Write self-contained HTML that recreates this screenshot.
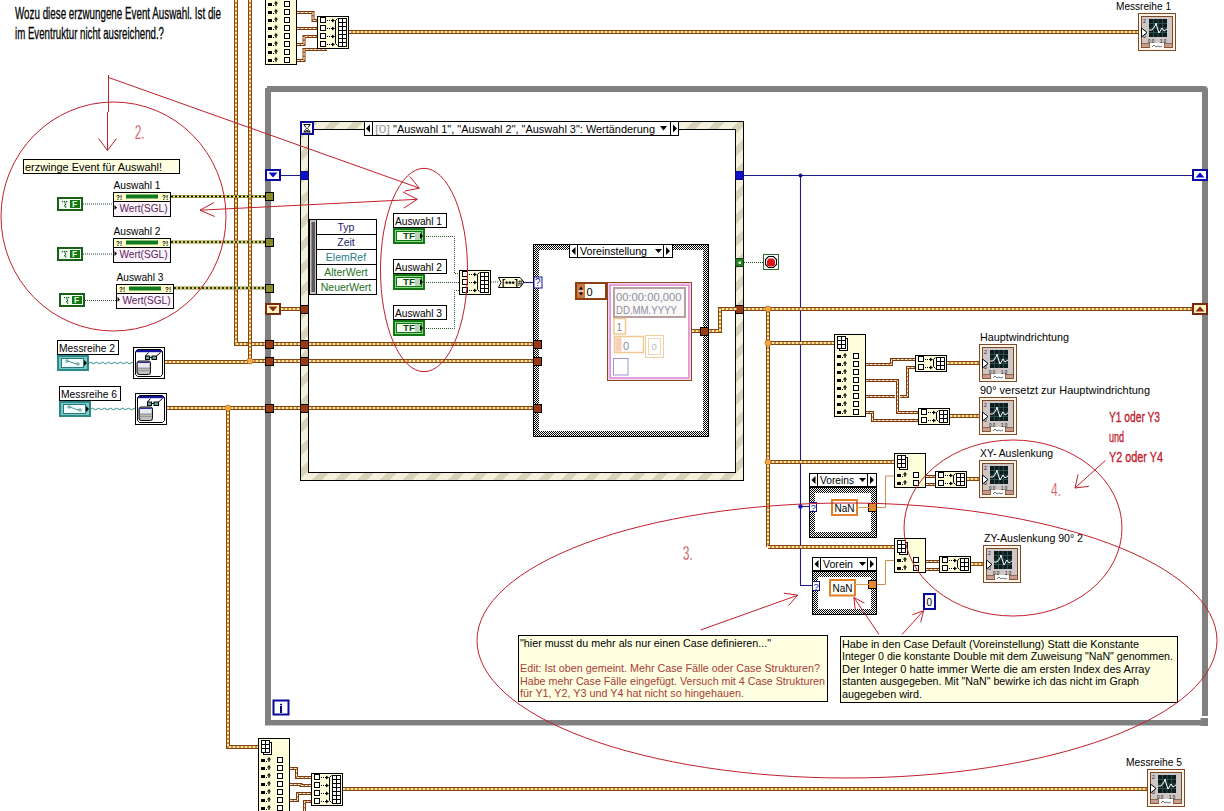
<!DOCTYPE html><html><head><meta charset="utf-8"><title>LabVIEW</title><style>html,body{margin:0;padding:0;background:#fff;}svg{display:block;}text{font-family:"Liberation Sans",sans-serif;}</style></head><body>
<svg width="1224" height="811" viewBox="0 0 1224 811">
<defs>
<pattern id="es" width="16" height="16" patternUnits="userSpaceOnUse" patternTransform="rotate(45)"><rect width="16" height="16" fill="#f3f1de"/><rect width="7" height="16" fill="#d6d3b8"/></pattern>
<pattern id="ck" width="2" height="2" patternUnits="userSpaceOnUse" shape-rendering="crispEdges"><rect width="2" height="2" fill="#fff"/><rect width="1" height="1" fill="#000"/><rect x="1" y="1" width="1" height="1" fill="#000"/></pattern>
<symbol id="graph" viewBox="0 0 38 38" width="38" height="38"><rect x=".5" y=".5" width="37" height="37" fill="#fff4e6" stroke="#7a4a2a"/><rect x="3.5" y="3.5" width="31" height="31" fill="#cfc6c6" stroke="#7a4a2a"/><rect x="11" y="6" width="18" height="18" fill="#0d1d1d"/><path d="M11,10.5H29M11,15H29M11,19.5H29M15.5,6V24M20,6V24M24.5,6V24" stroke="#2c5050" stroke-width="1"/><path d="M11,17 L14,17 L17,13 L18,10 L19,14 L21,20 L24,15 L26,18 L29,16" fill="none" stroke="#fff" stroke-width="1"/><text x="5" y="10" font-size="5" fill="#102060" font-family="Liberation Sans">2</text><text x="5" y="25" font-size="5" fill="#000" font-family="Liberation Sans">0</text><text x="10" y="29.5" font-size="4.5" fill="#000" font-family="Liberation Sans">0.0</text><text x="22" y="29.5" font-size="4.5" fill="#000" font-family="Liberation Sans">1.0</text><rect x="3.5" y="30.5" width="8" height="4" fill="#c89a90" stroke="#7a4a2a" stroke-width=".7"/><rect x="26.5" y="30.5" width="8" height="4" fill="#c89a90" stroke="#7a4a2a" stroke-width=".7"/><rect x="12" y="30" width="14" height="6" fill="#fff"/><path d="M14,34 l2,-2 l2,2 l2,-1 l2,1 l2,-1" fill="none" stroke="#333" stroke-width=".7"/><path d="M3.5,15 L9,19.5 L3.5,24 Z" fill="#fff" stroke="#000" stroke-width="1"/></symbol>
<symbol id="irow" viewBox="0 0 26 6" width="26" height="6"><rect x="3" y="2" width="4" height="3" fill="#000"/><rect x="8" y="4" width="1" height="1" fill="#000"/><path d="M11,5 V1 M9.5,2.5 L11,0.5 L12.5,2.5 M10,3 H12" stroke="#000" stroke-width="1" fill="none"/><rect x="19.5" y=".5" width="5" height="5" fill="#fff" stroke="#000" stroke-width="1"/></symbol>
<symbol id="aicon" viewBox="0 0 11 15" width="11" height="15"><rect x="2.5" y="2.5" width="8" height="12" fill="#fff" stroke="#000"/><rect x=".5" y=".5" width="8" height="12" fill="#fff" stroke="#000"/><path d="M4.5,.5V12.5M.5,4.5H8.5M.5,8.5H8.5" stroke="#000"/></symbol>
<symbol id="brow" viewBox="0 0 16 6" width="16" height="6"><rect x=".5" y=".5" width="5" height="5" fill="#fff" stroke="#000"/><path d="M7,3.5h1M9,3.5h1M11,3.5h1" stroke="#000"/><path d="M12,1.5 L15,3.5 L12,5.5Z" fill="#000"/></symbol>
<symbol id="hg" viewBox="0 0 14 14" width="14" height="14"><rect x="1" y="1" width="12" height="12" fill="#fff" stroke="#0a0a96" stroke-width="2"/><path d="M3.5,3.5H10.5M3.5,11H10.5" stroke="#000" stroke-width="1.2"/><path d="M4.5,3.5 C4.5,6 6.5,6.5 6.5,7.2 C6.5,8 4.5,8.5 4.5,11 M9.5,3.5 C9.5,6 7.5,6.5 7.5,7.2 C7.5,8 9.5,8.5 9.5,11" stroke="#000" stroke-width="1" fill="none"/><path d="M5,10.5 L7,8.8 L9,10.5Z" fill="#000"/></symbol>
<symbol id="subvi" viewBox="0 0 32 32" width="32" height="32"><rect x=".5" y=".5" width="31" height="31" fill="#fff" stroke="#000"/><path d="M4.5,2.5 H27.5 L29.5,4.5 V27.5 L27.5,29.5 H4.5 L2.5,27.5 V4.5Z" fill="#fff" stroke="#000" stroke-width="1"/><path d="M4,3 H28 L29,4.5 H3Z" fill="#1414a0"/><rect x="3" y="4" width="26" height="1.2" fill="#1414a0"/><rect x="12.5" y="9" width="4" height="3.5" fill="#5ab0a0" stroke="#000" stroke-width="1"/><rect x="19" y="9" width="4.5" height="3.5" fill="#5ab0a0" stroke="#000" stroke-width="1"/><path d="M16.5,10.5 H19 M12.5,9 L15.5,5.5 M23.5,9 L27.5,5.5" stroke="#000" stroke-width="1" fill="none"/><rect x="4" y="14" width="13.5" height="13.5" rx="2" fill="#9a9a9a" stroke="#111" stroke-width="1"/><rect x="5" y="15" width="11.5" height="5.5" fill="#e8e8f8"/><rect x="5" y="15" width="11.5" height="1" fill="#2a2ab0"/><path d="M5.5,22.5h11M5.5,24.5h11" stroke="#eee" stroke-width=".8" stroke-dasharray="1 1"/><path d="M7,25v2M9,25v2M11,25v2M13,25v2M15,25v2" stroke="#fff" stroke-width=".8"/></symbol>
</defs>
<rect x="0" y="0" width="1224" height="811" fill="#fff" stroke="none" stroke-width="1" />
<text x="15" y="18.8" font-size="16.5" fill="#000" text-anchor="start" textLength="206" lengthAdjust="spacingAndGlyphs" stroke="#000" stroke-width="0.3">Wozu diese erzwungene Event Auswahl. Ist die</text>
<text x="15" y="38.6" font-size="16.5" fill="#000" text-anchor="start" textLength="149" lengthAdjust="spacingAndGlyphs" stroke="#000" stroke-width="0.3">im Eventruktur nicht ausreichend.?</text>
<path d="M265,725 V89 L268,86 H1208 V716 M265,722.5 H1208" fill="none" stroke="#808080" stroke-width="0"/>
<rect x="265" y="88" width="6" height="637" fill="#808080" stroke="none" stroke-width="1" />
<rect x="267" y="86" width="937" height="6" fill="#808080" stroke="none" stroke-width="1" />
<path d="M1204,86 Q1208,86 1208,90 V92 H1204Z" fill="#808080"/>
<rect x="1202" y="90" width="6" height="626" fill="#808080" stroke="none" stroke-width="1" />
<rect x="267" y="720" width="941" height="5.5" fill="#808080" stroke="none" stroke-width="1" />
<rect x="1200.5" y="718" width="7.5" height="8" fill="#808080" stroke="none" stroke-width="1" />
<path d="M265,88 H271 V720 L267,725.5 H265Z" fill="#808080"/>
<path d="M236,0 L236,344 L266,344" fill="none" stroke="#84460f" stroke-width="4" stroke-linejoin="miter"/>
<path d="M236,0 L236,344 L266,344" fill="none" stroke="#d48a3c" stroke-width="2"/>
<path d="M236,0 L236,344 L266,344" fill="none" stroke="#ffe9a8" stroke-width="2" stroke-dasharray="2 2"/>
<path d="M250,0 L250,361" fill="none" stroke="#84460f" stroke-width="4" stroke-linejoin="miter"/>
<path d="M250,0 L250,361" fill="none" stroke="#d48a3c" stroke-width="2"/>
<path d="M250,0 L250,361" fill="none" stroke="#ffe9a8" stroke-width="2" stroke-dasharray="2 2"/>
<path d="M165,362 L250,362 L250,361 L266,361" fill="none" stroke="#84460f" stroke-width="4" stroke-linejoin="miter"/>
<path d="M165,362 L250,362 L250,361 L266,361" fill="none" stroke="#d48a3c" stroke-width="2"/>
<path d="M165,362 L250,362 L250,361 L266,361" fill="none" stroke="#ffe9a8" stroke-width="2" stroke-dasharray="2 2"/>
<path d="M167,408 L266,408" fill="none" stroke="#84460f" stroke-width="4" stroke-linejoin="miter"/>
<path d="M167,408 L266,408" fill="none" stroke="#d48a3c" stroke-width="2"/>
<path d="M167,408 L266,408" fill="none" stroke="#ffe9a8" stroke-width="2" stroke-dasharray="2 2"/>
<path d="M228,408 L228,747 L259,747" fill="none" stroke="#84460f" stroke-width="4" stroke-linejoin="miter"/>
<path d="M228,408 L228,747 L259,747" fill="none" stroke="#d48a3c" stroke-width="2"/>
<path d="M228,408 L228,747 L259,747" fill="none" stroke="#ffe9a8" stroke-width="2" stroke-dasharray="2 2"/>
<circle cx="250" cy="361" r="3" fill="#f0a848" stroke="#c07020" stroke-width=".8"/>
<circle cx="228" cy="408" r="3" fill="#f0a848" stroke="#c07020" stroke-width=".8"/>
<rect x="265.5" y="-17.5" width="31" height="82" fill="#fffedb" stroke="#000" stroke-width="1" />
<use href="#aicon" x="268" y="-16"/>
<use href="#irow" x="265" y="1"/>
<use href="#irow" x="265" y="9"/>
<use href="#irow" x="265" y="17"/>
<use href="#irow" x="265" y="25"/>
<use href="#irow" x="265" y="33"/>
<use href="#irow" x="265" y="41"/>
<use href="#irow" x="265" y="49"/>
<use href="#irow" x="265" y="57"/>
<path d="M297,12.5 L313,12.5 L313,20.5 L318,20.5" fill="none" stroke="#7a3a10" stroke-width="3"/>
<path d="M297,12.5 L313,12.5 L313,20.5 L318,20.5" fill="none" stroke="#d07a40" stroke-width="1"/>
<path d="M297,12.5 L313,12.5 L313,20.5 L318,20.5" fill="none" stroke="#fff2d8" stroke-width="1" stroke-dasharray="2.5 1.5"/>
<path d="M297,28.5 L318,28.5" fill="none" stroke="#7a3a10" stroke-width="3"/>
<path d="M297,28.5 L318,28.5" fill="none" stroke="#d07a40" stroke-width="1"/>
<path d="M297,28.5 L318,28.5" fill="none" stroke="#fff2d8" stroke-width="1" stroke-dasharray="2.5 1.5"/>
<path d="M297,44.5 L304,44.5 L304,36.5 L318,36.5" fill="none" stroke="#7a3a10" stroke-width="3"/>
<path d="M297,44.5 L304,44.5 L304,36.5 L318,36.5" fill="none" stroke="#d07a40" stroke-width="1"/>
<path d="M297,44.5 L304,44.5 L304,36.5 L318,36.5" fill="none" stroke="#fff2d8" stroke-width="1" stroke-dasharray="2.5 1.5"/>
<path d="M297,60.5 L304,60.5 L304,49.5 L327,49.5" fill="none" stroke="#7a3a10" stroke-width="3"/>
<path d="M297,60.5 L304,60.5 L304,49.5 L327,49.5" fill="none" stroke="#d07a40" stroke-width="1"/>
<path d="M297,60.5 L304,60.5 L304,49.5 L327,49.5" fill="none" stroke="#fff2d8" stroke-width="1" stroke-dasharray="2.5 1.5"/>
<rect x="317.5" y="16.5" width="31" height="32" fill="#fffedb" stroke="#000" stroke-width="1" />
<use href="#brow" x="320" y="17"/>
<use href="#brow" x="320" y="25"/>
<use href="#brow" x="320" y="33"/>
<use href="#brow" x="320" y="41"/>
<path d="M337.5,18.5 L335.5,20.5 V43.5 L337.5,45.5" fill="none" stroke="#000" stroke-width="1"/>
<rect x="338.5" y="18.5" width="8" height="28" fill="#fff" stroke="#000" stroke-width="1" />
<path d="M342.5,18.5V46.5" stroke="#000"/>
<path d="M338.5,22.5H346.5" stroke="#000"/>
<path d="M338.5,26.5H346.5" stroke="#000"/>
<path d="M338.5,30.5H346.5" stroke="#000"/>
<path d="M338.5,34.5H346.5" stroke="#000"/>
<path d="M338.5,38.5H346.5" stroke="#000"/>
<path d="M338.5,42.5H346.5" stroke="#000"/>
<path d="M349,32 L1139,32" fill="none" stroke="#84460f" stroke-width="4" stroke-linejoin="miter"/>
<path d="M349,32 L1139,32" fill="none" stroke="#d48a3c" stroke-width="2"/>
<path d="M349,32 L1139,32" fill="none" stroke="#ffe9a8" stroke-width="2" stroke-dasharray="2 2"/>
<use href="#graph" x="1138" y="13"/>
<text x="1116" y="9.5" font-size="11" fill="#000" text-anchor="start" textLength="55" lengthAdjust="spacingAndGlyphs" >Messreihe 1</text>
<path d="M290,768.5 L296.5,768.5 L296.5,777.5 L312,777.5" fill="none" stroke="#7a3a10" stroke-width="3"/>
<path d="M290,768.5 L296.5,768.5 L296.5,777.5 L312,777.5" fill="none" stroke="#d07a40" stroke-width="1"/>
<path d="M290,768.5 L296.5,768.5 L296.5,777.5 L312,777.5" fill="none" stroke="#fff2d8" stroke-width="1" stroke-dasharray="2.5 1.5"/>
<path d="M290,784.5 L301,784.5 L301,785.5 L312,785.5" fill="none" stroke="#7a3a10" stroke-width="3"/>
<path d="M290,784.5 L301,784.5 L301,785.5 L312,785.5" fill="none" stroke="#d07a40" stroke-width="1"/>
<path d="M290,784.5 L301,784.5 L301,785.5 L312,785.5" fill="none" stroke="#fff2d8" stroke-width="1" stroke-dasharray="2.5 1.5"/>
<path d="M290,800.5 L297.5,800.5 L297.5,793.5 L312,793.5" fill="none" stroke="#7a3a10" stroke-width="3"/>
<path d="M290,800.5 L297.5,800.5 L297.5,793.5 L312,793.5" fill="none" stroke="#d07a40" stroke-width="1"/>
<path d="M290,800.5 L297.5,800.5 L297.5,793.5 L312,793.5" fill="none" stroke="#fff2d8" stroke-width="1" stroke-dasharray="2.5 1.5"/>
<path d="M304.5,815 L304.5,801.5 L312,801.5" fill="none" stroke="#7a3a10" stroke-width="3"/>
<path d="M304.5,815 L304.5,801.5 L312,801.5" fill="none" stroke="#d07a40" stroke-width="1"/>
<path d="M304.5,815 L304.5,801.5 L312,801.5" fill="none" stroke="#fff2d8" stroke-width="1" stroke-dasharray="2.5 1.5"/>
<rect x="258.5" y="738.5" width="31" height="82" fill="#fffedb" stroke="#000" stroke-width="1" />
<use href="#aicon" x="261" y="740"/>
<use href="#irow" x="258" y="757"/>
<use href="#irow" x="258" y="765"/>
<use href="#irow" x="258" y="773"/>
<use href="#irow" x="258" y="781"/>
<use href="#irow" x="258" y="789"/>
<use href="#irow" x="258" y="797"/>
<use href="#irow" x="258" y="805"/>
<use href="#irow" x="258" y="813"/>
<rect x="311.5" y="773.5" width="31" height="32" fill="#fffedb" stroke="#000" stroke-width="1" />
<use href="#brow" x="314" y="774"/>
<use href="#brow" x="314" y="782"/>
<use href="#brow" x="314" y="790"/>
<use href="#brow" x="314" y="798"/>
<path d="M331.5,775.5 L329.5,777.5 V800.5 L331.5,802.5" fill="none" stroke="#000" stroke-width="1"/>
<rect x="332.5" y="775.5" width="8" height="28" fill="#fff" stroke="#000" stroke-width="1" />
<path d="M336.5,775.5V803.5" stroke="#000"/>
<path d="M332.5,779.5H340.5" stroke="#000"/>
<path d="M332.5,783.5H340.5" stroke="#000"/>
<path d="M332.5,787.5H340.5" stroke="#000"/>
<path d="M332.5,791.5H340.5" stroke="#000"/>
<path d="M332.5,795.5H340.5" stroke="#000"/>
<path d="M332.5,799.5H340.5" stroke="#000"/>
<path d="M343,789 L1148,789" fill="none" stroke="#84460f" stroke-width="4" stroke-linejoin="miter"/>
<path d="M343,789 L1148,789" fill="none" stroke="#d48a3c" stroke-width="2"/>
<path d="M343,789 L1148,789" fill="none" stroke="#ffe9a8" stroke-width="2" stroke-dasharray="2 2"/>
<use href="#graph" x="1147" y="769"/>
<text x="1126" y="765.5" font-size="11" fill="#000" text-anchor="start" textLength="56" lengthAdjust="spacingAndGlyphs" >Messreihe 5</text>
<path d="M171,196.5H266" stroke="#8a8a28" stroke-width="3"/>
<path d="M171,196.5H266" stroke="#f2f07a" stroke-width="1.5"/>
<path d="M171,196.5H266" stroke="#000" stroke-width="1.5" stroke-dasharray="2 2"/>
<path d="M171,242H266" stroke="#8a8a28" stroke-width="3"/>
<path d="M171,242H266" stroke="#f2f07a" stroke-width="1.5"/>
<path d="M171,242H266" stroke="#000" stroke-width="1.5" stroke-dasharray="2 2"/>
<path d="M174,288H266" stroke="#8a8a28" stroke-width="3"/>
<path d="M174,288H266" stroke="#f2f07a" stroke-width="1.5"/>
<path d="M174,288H266" stroke="#000" stroke-width="1.5" stroke-dasharray="2 2"/>
<rect x="23.5" y="159.5" width="156" height="14" fill="#ffffe1" stroke="#000" stroke-width="1" />
<text x="25" y="170.7" font-size="11" fill="#000" text-anchor="start" textLength="137" lengthAdjust="spacingAndGlyphs" >erzwinge Event für Auswahl!</text>
<text x="113.5" y="188.6" font-size="10.5" fill="#000" text-anchor="start" textLength="47" lengthAdjust="spacingAndGlyphs" >Auswahl 1</text>
<rect x="113.5" y="192.5" width="57" height="24" fill="#fbf4fb" stroke="#000" stroke-width="1" />
<rect x="114" y="193" width="56" height="8" fill="#ffffd0" stroke="none" stroke-width="1" />
<path d="M113.5,201.5H170.5" stroke="#000"/>
<rect x="126" y="194.5" width="32" height="4" fill="#107a20" stroke="none" stroke-width="1" />
<text x="116" y="200.3" font-size="8" fill="#000" text-anchor="start" textLength="6" lengthAdjust="spacingAndGlyphs" font-weight="bold">?!</text>
<text x="162" y="200.3" font-size="8" fill="#000" text-anchor="start" textLength="6" lengthAdjust="spacingAndGlyphs" font-weight="bold">?!</text>
<path d="M114.5,205 L117,207.5 L114.5,210Z" fill="#000"/>
<text x="119.5" y="211.6" font-size="10.5" fill="#5a1c5a" text-anchor="start" textLength="48" lengthAdjust="spacingAndGlyphs" >Wert(SGL)</text>
<text x="113.5" y="234.6" font-size="10.5" fill="#000" text-anchor="start" textLength="47" lengthAdjust="spacingAndGlyphs" >Auswahl 2</text>
<rect x="113.5" y="238.5" width="57" height="24" fill="#fbf4fb" stroke="#000" stroke-width="1" />
<rect x="114" y="239" width="56" height="8" fill="#ffffd0" stroke="none" stroke-width="1" />
<path d="M113.5,247.5H170.5" stroke="#000"/>
<rect x="126" y="240.5" width="32" height="4" fill="#107a20" stroke="none" stroke-width="1" />
<text x="116" y="246.3" font-size="8" fill="#000" text-anchor="start" textLength="6" lengthAdjust="spacingAndGlyphs" font-weight="bold">?!</text>
<text x="162" y="246.3" font-size="8" fill="#000" text-anchor="start" textLength="6" lengthAdjust="spacingAndGlyphs" font-weight="bold">?!</text>
<path d="M114.5,251 L117,253.5 L114.5,256Z" fill="#000"/>
<text x="119.5" y="257.6" font-size="10.5" fill="#5a1c5a" text-anchor="start" textLength="48" lengthAdjust="spacingAndGlyphs" >Wert(SGL)</text>
<text x="116.5" y="280.6" font-size="10.5" fill="#000" text-anchor="start" textLength="47" lengthAdjust="spacingAndGlyphs" >Auswahl 3</text>
<rect x="116.5" y="284.5" width="57" height="24" fill="#fbf4fb" stroke="#000" stroke-width="1" />
<rect x="117" y="285" width="56" height="8" fill="#ffffd0" stroke="none" stroke-width="1" />
<path d="M116.5,293.5H173.5" stroke="#000"/>
<rect x="129" y="286.5" width="32" height="4" fill="#107a20" stroke="none" stroke-width="1" />
<text x="119" y="292.3" font-size="8" fill="#000" text-anchor="start" textLength="6" lengthAdjust="spacingAndGlyphs" font-weight="bold">?!</text>
<text x="165" y="292.3" font-size="8" fill="#000" text-anchor="start" textLength="6" lengthAdjust="spacingAndGlyphs" font-weight="bold">?!</text>
<path d="M117.5,297 L120,299.5 L117.5,302Z" fill="#000"/>
<text x="122.5" y="303.6" font-size="10.5" fill="#5a1c5a" text-anchor="start" textLength="48" lengthAdjust="spacingAndGlyphs" >Wert(SGL)</text>
<rect x="58" y="198" width="24" height="12" fill="#f2fff2" stroke="#1a5e1a" stroke-width="2" />
<rect x="70" y="200" width="10" height="8" fill="#137a13" stroke="none" stroke-width="1" />
<text x="72" y="207.3" font-size="8.5" fill="#e8ffe8" text-anchor="start" font-weight="bold">F</text>
<rect x="61.9" y="200.9" width="1.3" height="1.3" fill="#2a5a2a"/>
<rect x="63.99999999999999" y="200.9" width="1.3" height="1.3" fill="#2a5a2a"/>
<rect x="66.0" y="200.9" width="1.3" height="1.3" fill="#2a5a2a"/>
<rect x="64.5" y="202.4" width="1.3" height="1.3" fill="#2a5a2a"/>
<rect x="65.0" y="203.9" width="1.3" height="1.3" fill="#2a5a2a"/>
<rect x="63.99999999999999" y="205.1" width="1.3" height="1.3" fill="#2a5a2a"/>
<rect x="65.0" y="206.4" width="1.3" height="1.3" fill="#2a5a2a"/>
<rect x="58" y="248" width="24" height="12" fill="#f2fff2" stroke="#1a5e1a" stroke-width="2" />
<rect x="70" y="250" width="10" height="8" fill="#137a13" stroke="none" stroke-width="1" />
<text x="72" y="257.3" font-size="8.5" fill="#e8ffe8" text-anchor="start" font-weight="bold">F</text>
<rect x="61.9" y="250.9" width="1.3" height="1.3" fill="#2a5a2a"/>
<rect x="63.99999999999999" y="250.9" width="1.3" height="1.3" fill="#2a5a2a"/>
<rect x="66.0" y="250.9" width="1.3" height="1.3" fill="#2a5a2a"/>
<rect x="64.5" y="252.4" width="1.3" height="1.3" fill="#2a5a2a"/>
<rect x="65.0" y="253.9" width="1.3" height="1.3" fill="#2a5a2a"/>
<rect x="63.99999999999999" y="255.1" width="1.3" height="1.3" fill="#2a5a2a"/>
<rect x="65.0" y="256.4" width="1.3" height="1.3" fill="#2a5a2a"/>
<rect x="60" y="294" width="24" height="12" fill="#f2fff2" stroke="#1a5e1a" stroke-width="2" />
<rect x="72" y="296" width="10" height="8" fill="#137a13" stroke="none" stroke-width="1" />
<text x="74" y="303.3" font-size="8.5" fill="#e8ffe8" text-anchor="start" font-weight="bold">F</text>
<rect x="63.9" y="296.9" width="1.3" height="1.3" fill="#2a5a2a"/>
<rect x="66.0" y="296.9" width="1.3" height="1.3" fill="#2a5a2a"/>
<rect x="68.0" y="296.9" width="1.3" height="1.3" fill="#2a5a2a"/>
<rect x="66.5" y="298.4" width="1.3" height="1.3" fill="#2a5a2a"/>
<rect x="67.0" y="299.9" width="1.3" height="1.3" fill="#2a5a2a"/>
<rect x="66.0" y="301.09999999999997" width="1.3" height="1.3" fill="#2a5a2a"/>
<rect x="67.0" y="302.4" width="1.3" height="1.3" fill="#2a5a2a"/>
<path d="M83,204H113" stroke="#2a4a2a" stroke-width="1" stroke-dasharray="1 1"/>
<path d="M83,254H113" stroke="#2a4a2a" stroke-width="1" stroke-dasharray="1 1"/>
<path d="M85,300.5H116" stroke="#2a4a2a" stroke-width="1" stroke-dasharray="1 1"/>
<rect x="265.5" y="192.5" width="8" height="8" fill="#8a8a2a" stroke="#000" stroke-width="1" />
<rect x="265.5" y="238.5" width="8" height="8" fill="#8a8a2a" stroke="#000" stroke-width="1" />
<rect x="265.5" y="284.5" width="8" height="8" fill="#8a8a2a" stroke="#000" stroke-width="1" />
<rect x="57.5" y="340.5" width="61" height="14" fill="#fff" stroke="#000" stroke-width="1" />
<text x="59" y="352" font-size="11" fill="#000" text-anchor="start" textLength="56" lengthAdjust="spacingAndGlyphs" >Messreihe 2</text>
<rect x="58" y="356" width="30" height="14" fill="#7cc8c8" stroke="#2a8a8a" stroke-width="2" />
<rect x="61.5" y="358.5" width="22" height="9" fill="#f4ffff" stroke="#2a7a7a" stroke-width="1" />
<circle cx="67" cy="361" r="1.2" fill="none" stroke="#2a7a7a" stroke-width=".8"/>
<path d="M68,361 L73,363 L77,364" stroke="#2a7a7a" stroke-width=".8" fill="none"/>
<circle cx="78" cy="364" r="1.2" fill="none" stroke="#2a7a7a" stroke-width=".8"/>
<path d="M84,360 L87,363 L84,366Z" fill="#000"/>
<path d="M89,363 q1.5,-1.5 3,0 t3,0 t3,0 t3,0 t3,0 t3,0 t3,0 t3,0 t3,0 t3,0 t3,0 t3,0 t3,0 t3,0 t3,0" stroke="#2a8a8a" fill="none" stroke-width="1"/>
<use href="#subvi" x="133" y="347"/>
<rect x="59.5" y="386.5" width="61" height="14" fill="#fff" stroke="#000" stroke-width="1" />
<text x="61" y="398" font-size="11" fill="#000" text-anchor="start" textLength="56" lengthAdjust="spacingAndGlyphs" >Messreihe 6</text>
<rect x="60" y="402" width="30" height="14" fill="#7cc8c8" stroke="#2a8a8a" stroke-width="2" />
<rect x="63.5" y="404.5" width="22" height="9" fill="#f4ffff" stroke="#2a7a7a" stroke-width="1" />
<circle cx="69" cy="407" r="1.2" fill="none" stroke="#2a7a7a" stroke-width=".8"/>
<path d="M70,407 L75,409 L79,410" stroke="#2a7a7a" stroke-width=".8" fill="none"/>
<circle cx="80" cy="410" r="1.2" fill="none" stroke="#2a7a7a" stroke-width=".8"/>
<path d="M86,406 L89,409 L86,412Z" fill="#000"/>
<path d="M91,409 q1.5,-1.5 3,0 t3,0 t3,0 t3,0 t3,0 t3,0 t3,0 t3,0 t3,0 t3,0 t3,0 t3,0 t3,0 t3,0 t3,0" stroke="#2a8a8a" fill="none" stroke-width="1"/>
<use href="#subvi" x="135" y="393"/>
<path d="M281,175.5H1192 M800.5,175.5V585.5 H812" stroke="#1c1c84" stroke-width="1.1" fill="none"/>
<path d="M800.5,506.5H809" stroke="#1c1c84" stroke-width="1.1"/>
<circle cx="800.5" cy="175.5" r="2" fill="#14148c"/><circle cx="800.5" cy="506.5" r="2.2" fill="#1414c0"/>
<rect x="266" y="170" width="14" height="10" fill="#fff" stroke="#0a0aa0" stroke-width="2" />
<path d="M268.5,172.5 L273,177.5 L277.5,172.5Z" fill="#0a0ad0"/>
<rect x="1193" y="170" width="14" height="10" fill="#fff" stroke="#0a0aa0" stroke-width="2" />
<path d="M1195.5,177.5 L1200,172.5 L1204.5,177.5Z" fill="#0a0ad0"/>
<path d="M281,309 L301,309" fill="none" stroke="#84460f" stroke-width="4" stroke-linejoin="miter"/>
<path d="M281,309 L301,309" fill="none" stroke="#d48a3c" stroke-width="2"/>
<path d="M281,309 L301,309" fill="none" stroke="#ffe9a8" stroke-width="2" stroke-dasharray="2 2"/>
<path d="M744,309 L1193,309" fill="none" stroke="#84460f" stroke-width="4" stroke-linejoin="miter"/>
<path d="M744,309 L1193,309" fill="none" stroke="#d48a3c" stroke-width="2"/>
<path d="M744,309 L1193,309" fill="none" stroke="#ffe9a8" stroke-width="2" stroke-dasharray="2 2"/>
<rect x="266" y="304" width="14" height="10" fill="#fff3c8" stroke="#7a2a08" stroke-width="2" />
<path d="M268.5,306.5 L273,311.5 L277.5,306.5Z" fill="#8a3010"/>
<rect x="1193" y="304" width="14" height="10" fill="#fff3c8" stroke="#7a2a08" stroke-width="2" />
<path d="M1195.5,311.5 L1200,306.5 L1204.5,311.5Z" fill="#8a3010"/>
<path d="M300,121 H744 V481 H300Z M308,129 V473 H736 V129Z" fill="url(#es)" fill-rule="evenodd"/>
<rect x="300.5" y="121.5" width="443" height="359" fill="none" stroke="#000" stroke-width="1" />
<rect x="308.5" y="129.5" width="427" height="343" fill="#fff" stroke="#000" stroke-width="1" />
<use href="#hg" x="300" y="121"/>
<rect x="364.5" y="121.5" width="314" height="14" fill="#fff" stroke="#000" stroke-width="1" />
<path d="M372.5,121V136 M670.5,121V136" stroke="#000"/>
<path d="M370,124.5 L366,128.5 L370,132.5Z" fill="#000"/>
<path d="M673,124.5 L677,128.5 L673,132.5Z" fill="#000"/>
<path d="M660,126 L667,126 L663.5,130.5Z" fill="#000"/>
<text x="375" y="133" font-size="11.5" fill="#999" text-anchor="start" textLength="15" lengthAdjust="spacingAndGlyphs" >[0]</text>
<text x="393" y="133" font-size="11.5" fill="#000" text-anchor="start" textLength="262" lengthAdjust="spacingAndGlyphs" >"Auswahl 1", "Auswahl 2", "Auswahl 3": Wertänderung</text>
<rect x="309.5" y="219.5" width="67" height="75" fill="#fff" stroke="#000" stroke-width="1" />
<rect x="310" y="220" width="6.5" height="74" fill="#c4c4c4" stroke="none" stroke-width="1" />
<rect x="311.5" y="222" width="3.5" height="70" fill="#5a5a50" stroke="none" stroke-width="1" />
<path d="M316.5,219.5V294.5" stroke="#000"/>
<text x="346" y="230.7" font-size="10.5" fill="#1a1a6a" text-anchor="middle" >Typ</text>
<path d="M316.5,234.5H376.5" stroke="#000"/>
<text x="346" y="245.7" font-size="10.5" fill="#1a1a6a" text-anchor="middle" >Zeit</text>
<path d="M316.5,249.5H376.5" stroke="#000"/>
<text x="346" y="260.7" font-size="10.5" fill="#2a7a8a" text-anchor="middle" >ElemRef</text>
<path d="M316.5,264.5H376.5" stroke="#000"/>
<text x="346" y="275.7" font-size="10.5" fill="#267326" text-anchor="middle" >AlterWert</text>
<path d="M316.5,279.5H376.5" stroke="#000"/>
<text x="346" y="290.7" font-size="10.5" fill="#1e6e1e" text-anchor="middle" >NeuerWert</text>
<path d="M533,244 h176 v193 h-176Z M539,250 v181 h164 v-181Z" fill="url(#ck)" fill-rule="evenodd"/>
<rect x="533.5" y="244.5" width="175" height="192" fill="none" stroke="#000" stroke-width="1" />
<path d="M274,344 L301,344" fill="none" stroke="#84460f" stroke-width="4" stroke-linejoin="miter"/>
<path d="M274,344 L301,344" fill="none" stroke="#d48a3c" stroke-width="2"/>
<path d="M274,344 L301,344" fill="none" stroke="#ffe9a8" stroke-width="2" stroke-dasharray="2 2"/>
<path d="M309,344 L534,344" fill="none" stroke="#84460f" stroke-width="4" stroke-linejoin="miter"/>
<path d="M309,344 L534,344" fill="none" stroke="#d48a3c" stroke-width="2"/>
<path d="M309,344 L534,344" fill="none" stroke="#ffe9a8" stroke-width="2" stroke-dasharray="2 2"/>
<path d="M274,361 L301,361" fill="none" stroke="#84460f" stroke-width="4" stroke-linejoin="miter"/>
<path d="M274,361 L301,361" fill="none" stroke="#d48a3c" stroke-width="2"/>
<path d="M274,361 L301,361" fill="none" stroke="#ffe9a8" stroke-width="2" stroke-dasharray="2 2"/>
<path d="M309,361 L534,361" fill="none" stroke="#84460f" stroke-width="4" stroke-linejoin="miter"/>
<path d="M309,361 L534,361" fill="none" stroke="#d48a3c" stroke-width="2"/>
<path d="M309,361 L534,361" fill="none" stroke="#ffe9a8" stroke-width="2" stroke-dasharray="2 2"/>
<path d="M274,408 L301,408" fill="none" stroke="#84460f" stroke-width="4" stroke-linejoin="miter"/>
<path d="M274,408 L301,408" fill="none" stroke="#d48a3c" stroke-width="2"/>
<path d="M274,408 L301,408" fill="none" stroke="#ffe9a8" stroke-width="2" stroke-dasharray="2 2"/>
<path d="M309,408 L534,408" fill="none" stroke="#84460f" stroke-width="4" stroke-linejoin="miter"/>
<path d="M309,408 L534,408" fill="none" stroke="#d48a3c" stroke-width="2"/>
<path d="M309,408 L534,408" fill="none" stroke="#ffe9a8" stroke-width="2" stroke-dasharray="2 2"/>
<rect x="265.5" y="340.5" width="8" height="8" fill="#9a3a14" stroke="#000" stroke-width="1" />
<rect x="300.5" y="340.5" width="8" height="8" fill="#9a3a14" stroke="#000" stroke-width="1" />
<rect x="533.5" y="340.5" width="8" height="8" fill="#9a3a14" stroke="#000" stroke-width="1" />
<rect x="265.5" y="357.5" width="8" height="8" fill="#9a3a14" stroke="#000" stroke-width="1" />
<rect x="300.5" y="357.5" width="8" height="8" fill="#9a3a14" stroke="#000" stroke-width="1" />
<rect x="533.5" y="357.5" width="8" height="8" fill="#9a3a14" stroke="#000" stroke-width="1" />
<rect x="265.5" y="404.5" width="8" height="8" fill="#9a3a14" stroke="#000" stroke-width="1" />
<rect x="300.5" y="404.5" width="8" height="8" fill="#9a3a14" stroke="#000" stroke-width="1" />
<rect x="533.5" y="404.5" width="8" height="8" fill="#9a3a14" stroke="#000" stroke-width="1" />
<rect x="300.5" y="305.5" width="8" height="8" fill="#9a3a14" stroke="#000" stroke-width="1" />
<rect x="735.5" y="305.5" width="8" height="8" fill="#9a3a14" stroke="#000" stroke-width="1" />
<rect x="300.5" y="171.5" width="8" height="8" fill="#1010c8" stroke="#0a0a80"/>
<rect x="735.5" y="171.5" width="8" height="8" fill="#1010c8" stroke="#0a0a80"/>
<rect x="735.5" y="258.5" width="8" height="8" fill="#2a7a2a" stroke="#104010" stroke-width="1" />
<rect x="738.5" y="261.5" width="2.5" height="2.5" fill="#cfc" stroke="none" stroke-width="1" />
<path d="M744,262.5H763" stroke="#1a4a1a" stroke-dasharray="1 1"/>
<rect x="763.5" y="254.5" width="15" height="15" fill="#fff" stroke="#2a6a2a" stroke-width="1" />
<path d="M768.5,256.5 h5 l3,3 v5 l-3,3 h-5 l-3,-3 v-5z" fill="#fff" stroke="#000" stroke-width="1.1"/>
<path d="M769,258.5 h4 l2,2 v4 l-2,2 h-4 l-2,-2 v-4z" fill="#e01010"/>
<rect x="393.5" y="213.5" width="53" height="14" fill="#fff" stroke="#000" stroke-width="1" />
<text x="395" y="225" font-size="11" fill="#000" text-anchor="start" textLength="47" lengthAdjust="spacingAndGlyphs" >Auswahl 1</text>
<rect x="394" y="229" width="30" height="14" fill="#8ad88a" stroke="#157515" stroke-width="2" />
<rect x="396.5" y="231.5" width="25" height="9" fill="#f6fff6" stroke="#157515" stroke-width="1" />
<rect x="415" y="232" width="6" height="8" fill="#b4d4b4" stroke="none" stroke-width="1" />
<text x="403" y="239.3" font-size="8.5" fill="#124a12" text-anchor="start" textLength="12" lengthAdjust="spacingAndGlyphs" font-weight="bold">TF</text>
<path d="M420,233 L423,236 L420,239Z" fill="#000"/>
<rect x="393.5" y="259.5" width="53" height="14" fill="#fff" stroke="#000" stroke-width="1" />
<text x="395" y="271" font-size="11" fill="#000" text-anchor="start" textLength="47" lengthAdjust="spacingAndGlyphs" >Auswahl 2</text>
<rect x="394" y="275" width="30" height="14" fill="#8ad88a" stroke="#157515" stroke-width="2" />
<rect x="396.5" y="277.5" width="25" height="9" fill="#f6fff6" stroke="#157515" stroke-width="1" />
<rect x="415" y="278" width="6" height="8" fill="#b4d4b4" stroke="none" stroke-width="1" />
<text x="403" y="285.3" font-size="8.5" fill="#124a12" text-anchor="start" textLength="12" lengthAdjust="spacingAndGlyphs" font-weight="bold">TF</text>
<path d="M420,279 L423,282 L420,285Z" fill="#000"/>
<rect x="393.5" y="305.5" width="53" height="14" fill="#fff" stroke="#000" stroke-width="1" />
<text x="395" y="317" font-size="11" fill="#000" text-anchor="start" textLength="47" lengthAdjust="spacingAndGlyphs" >Auswahl 3</text>
<rect x="394" y="321" width="30" height="14" fill="#8ad88a" stroke="#157515" stroke-width="2" />
<rect x="396.5" y="323.5" width="25" height="9" fill="#f6fff6" stroke="#157515" stroke-width="1" />
<rect x="415" y="324" width="6" height="8" fill="#b4d4b4" stroke="none" stroke-width="1" />
<text x="403" y="331.3" font-size="8.5" fill="#124a12" text-anchor="start" textLength="12" lengthAdjust="spacingAndGlyphs" font-weight="bold">TF</text>
<path d="M420,325 L423,328 L420,331Z" fill="#000"/>
<path d="M424,236.5H454.5V273.5H460 M424,282.5H460 M424,328.5H454.5V290.5H460" stroke="#2a5a2a" fill="none" stroke-dasharray="1 1"/>
<rect x="459.5" y="270.5" width="31" height="24" fill="#fffedb" stroke="#000" stroke-width="1" />
<use href="#brow" x="462" y="271"/>
<use href="#brow" x="462" y="279"/>
<use href="#brow" x="462" y="287"/>
<path d="M479.5,272.5 L477.5,274.5 V289.5 L479.5,291.5" fill="none" stroke="#000" stroke-width="1"/>
<rect x="480.5" y="272.5" width="8" height="20" fill="#fff" stroke="#000" stroke-width="1" />
<path d="M484.5,272.5V292.5" stroke="#000"/>
<path d="M480.5,276.5H488.5" stroke="#000"/>
<path d="M480.5,280.5H488.5" stroke="#000"/>
<path d="M480.5,284.5H488.5" stroke="#000"/>
<path d="M480.5,288.5H488.5" stroke="#000"/>
<path d="M491,282H499" stroke="#1f6a2a" stroke-dasharray="1 1"/>
<path d="M498.5,277.5 H520 L524,282 L520,287.5 H498.5 L501,282.5Z" fill="#fffedb" stroke="#000"/>
<text x="502" y="285.5" font-size="8.5" fill="#000" text-anchor="start" textLength="21" lengthAdjust="spacingAndGlyphs" font-weight="bold">[•••]#</text>
<path d="M524,282.5H534" stroke="#1c1c84" stroke-width="1.1"/>
<rect x="534" y="277" width="8" height="11" fill="#fff" stroke="#14148c" stroke-width="1" />
<text x="535" y="286" font-size="10" fill="#14148c" text-anchor="start" >?</text>
<rect x="569.5" y="244.5" width="103" height="13" fill="#fff" stroke="#000" stroke-width="1" />
<path d="M577.5,244V258 M663.5,244V258" stroke="#000"/>
<path d="M575.5,247 L571.5,251.0 L575.5,255Z" fill="#000"/>
<path d="M666,247 L670,251.0 L666,255Z" fill="#000"/>
<text x="580" y="255" font-size="11.5" fill="#000" text-anchor="start" textLength="67" lengthAdjust="spacingAndGlyphs" >Voreinstellung</text>
<path d="M655,249 L662,249 L658.5,253Z" fill="#000"/>
<rect x="576" y="283" width="30" height="16" fill="#fff" stroke="#8a4010" stroke-width="2" />
<rect x="577" y="284" width="8" height="14" fill="#c87840" stroke="none" stroke-width="1" />
<path d="M579,289.5 L581,286.5 L583,289.5Z M579,292.5 L581,295.5 L583,292.5Z" fill="#000"/>
<path d="M578,291H584" stroke="#fff" stroke-width="1"/>
<text x="586.5" y="295.5" font-size="11" fill="#000" text-anchor="start" >0</text>
<rect x="607.5" y="282.5" width="84" height="98" fill="#fff" stroke="#8a4a1c" stroke-width="1" />
<rect x="609.5" y="284.5" width="80" height="94" fill="#fff" stroke="#e8a8e0" stroke-width="2" />
<rect x="610.5" y="285.5" width="78" height="92" fill="none" stroke="#c878c0" stroke-width="0.6" />
<rect x="614" y="288" width="71" height="29" fill="#fbf8f8" stroke="#b8a0a0" stroke-width="2" />
<text x="616" y="300.5" font-size="11" fill="#8890a0" text-anchor="start" textLength="65.5" lengthAdjust="spacingAndGlyphs" >00:00:00,000</text>
<text x="616" y="313.6" font-size="11" fill="#8890a0" text-anchor="start" textLength="61" lengthAdjust="spacingAndGlyphs" >DD.MM.YYYY</text>
<rect x="614" y="318.5" width="11.5" height="15.5" fill="#fff" stroke="#f0c890" stroke-width="1.5" />
<text x="616.5" y="330.5" font-size="10" fill="#888" text-anchor="start" >1</text>
<rect x="614.5" y="336.5" width="29" height="16" fill="#fff" stroke="#f0c890" stroke-width="1.5" />
<rect x="615.5" y="337.5" width="6" height="14" fill="#f6d0b8" stroke="none" stroke-width="1" />
<text x="623" y="349.5" font-size="11" fill="#8890a0" text-anchor="start" >0</text>
<rect x="645.5" y="335.5" width="18" height="22" fill="#fff" stroke="#f0d0a0" stroke-width="1" />
<rect x="648.5" y="338.5" width="12" height="16" fill="#fff" stroke="#f0d8b8" stroke-width="1" />
<text x="651.5" y="350" font-size="9.5" fill="#b8bcc8" text-anchor="start" >0</text>
<rect x="613.5" y="358.5" width="14.5" height="16.5" fill="#fff" stroke="#a090d0" stroke-width="1" />
<path d="M692,331 L720,331 L720,309 L737,309" fill="none" stroke="#84460f" stroke-width="4" stroke-linejoin="miter"/>
<path d="M692,331 L720,331 L720,309 L737,309" fill="none" stroke="#d48a3c" stroke-width="2"/>
<path d="M692,331 L720,331 L720,309 L737,309" fill="none" stroke="#ffe9a8" stroke-width="2" stroke-dasharray="2 2"/>
<rect x="700.5" y="327.5" width="8" height="8" fill="#9a3a14" stroke="#000" stroke-width="1" />
<path d="M768,309 L768,547" fill="none" stroke="#84460f" stroke-width="4" stroke-linejoin="miter"/>
<path d="M768,309 L768,547" fill="none" stroke="#d48a3c" stroke-width="2"/>
<path d="M768,309 L768,547" fill="none" stroke="#ffe9a8" stroke-width="2" stroke-dasharray="2 2"/>
<circle cx="768" cy="309" r="3" fill="#f0a848" stroke="#c07020" stroke-width=".8"/>
<path d="M768,343 L835,343" fill="none" stroke="#84460f" stroke-width="4" stroke-linejoin="miter"/>
<path d="M768,343 L835,343" fill="none" stroke="#d48a3c" stroke-width="2"/>
<path d="M768,343 L835,343" fill="none" stroke="#ffe9a8" stroke-width="2" stroke-dasharray="2 2"/>
<circle cx="768" cy="343" r="3" fill="#f0a848" stroke="#c07020" stroke-width=".8"/>
<path d="M768,462 L895,462" fill="none" stroke="#84460f" stroke-width="4" stroke-linejoin="miter"/>
<path d="M768,462 L895,462" fill="none" stroke="#d48a3c" stroke-width="2"/>
<path d="M768,462 L895,462" fill="none" stroke="#ffe9a8" stroke-width="2" stroke-dasharray="2 2"/>
<circle cx="768" cy="462" r="3" fill="#f0a848" stroke="#c07020" stroke-width=".8"/>
<path d="M768,547 L895,547" fill="none" stroke="#84460f" stroke-width="4" stroke-linejoin="miter"/>
<path d="M768,547 L895,547" fill="none" stroke="#d48a3c" stroke-width="2"/>
<path d="M768,547 L895,547" fill="none" stroke="#ffe9a8" stroke-width="2" stroke-dasharray="2 2"/>
<rect x="834.5" y="334.5" width="31" height="82" fill="#fffedb" stroke="#000" stroke-width="1" />
<use href="#aicon" x="837" y="336"/>
<use href="#irow" x="834" y="353"/>
<use href="#irow" x="834" y="361"/>
<use href="#irow" x="834" y="369"/>
<use href="#irow" x="834" y="377"/>
<use href="#irow" x="834" y="385"/>
<use href="#irow" x="834" y="393"/>
<use href="#irow" x="834" y="401"/>
<use href="#irow" x="834" y="409"/>
<path d="M866,364.5 L891.5,364.5 L891.5,359.5 L916,359.5" fill="none" stroke="#7a3a10" stroke-width="3"/>
<path d="M866,364.5 L891.5,364.5 L891.5,359.5 L916,359.5" fill="none" stroke="#d07a40" stroke-width="1"/>
<path d="M866,364.5 L891.5,364.5 L891.5,359.5 L916,359.5" fill="none" stroke="#fff2d8" stroke-width="1" stroke-dasharray="2.5 1.5"/>
<path d="M866,380.5 L897.5,380.5 L897.5,412.5 L919,412.5" fill="none" stroke="#7a3a10" stroke-width="3"/>
<path d="M866,380.5 L897.5,380.5 L897.5,412.5 L919,412.5" fill="none" stroke="#d07a40" stroke-width="1"/>
<path d="M866,380.5 L897.5,380.5 L897.5,412.5 L919,412.5" fill="none" stroke="#fff2d8" stroke-width="1" stroke-dasharray="2.5 1.5"/>
<path d="M866,396.5 L895,396.5" fill="none" stroke="#7a3a10" stroke-width="3"/>
<path d="M866,396.5 L895,396.5" fill="none" stroke="#d07a40" stroke-width="1"/>
<path d="M866,396.5 L895,396.5" fill="none" stroke="#fff2d8" stroke-width="1" stroke-dasharray="2.5 1.5"/>
<path d="M900,396.5 L907.5,396.5 L907.5,367.5 L916,367.5" fill="none" stroke="#7a3a10" stroke-width="3"/>
<path d="M900,396.5 L907.5,396.5 L907.5,367.5 L916,367.5" fill="none" stroke="#d07a40" stroke-width="1"/>
<path d="M900,396.5 L907.5,396.5 L907.5,367.5 L916,367.5" fill="none" stroke="#fff2d8" stroke-width="1" stroke-dasharray="2.5 1.5"/>
<path d="M866,412.5 L872.5,412.5 L872.5,420.5 L919,420.5" fill="none" stroke="#7a3a10" stroke-width="3"/>
<path d="M866,412.5 L872.5,412.5 L872.5,420.5 L919,420.5" fill="none" stroke="#d07a40" stroke-width="1"/>
<path d="M866,412.5 L872.5,412.5 L872.5,420.5 L919,420.5" fill="none" stroke="#fff2d8" stroke-width="1" stroke-dasharray="2.5 1.5"/>
<rect x="915.5" y="355.5" width="31" height="16" fill="#fffedb" stroke="#000" stroke-width="1" />
<use href="#brow" x="918" y="356"/>
<use href="#brow" x="918" y="364"/>
<path d="M935.5,357.5 L933.5,359.5 V366.5 L935.5,368.5" fill="none" stroke="#000" stroke-width="1"/>
<rect x="936.5" y="357.5" width="8" height="12" fill="#fff" stroke="#000" stroke-width="1" />
<path d="M940.5,357.5V369.5" stroke="#000"/>
<path d="M936.5,361.5H944.5" stroke="#000"/>
<path d="M936.5,365.5H944.5" stroke="#000"/>
<rect x="918.5" y="408.5" width="31" height="16" fill="#fffedb" stroke="#000" stroke-width="1" />
<use href="#brow" x="921" y="409"/>
<use href="#brow" x="921" y="417"/>
<path d="M938.5,410.5 L936.5,412.5 V419.5 L938.5,421.5" fill="none" stroke="#000" stroke-width="1"/>
<rect x="939.5" y="410.5" width="8" height="12" fill="#fff" stroke="#000" stroke-width="1" />
<path d="M943.5,410.5V422.5" stroke="#000"/>
<path d="M939.5,414.5H947.5" stroke="#000"/>
<path d="M939.5,418.5H947.5" stroke="#000"/>
<path d="M947,363 L981,363" fill="none" stroke="#84460f" stroke-width="4" stroke-linejoin="miter"/>
<path d="M947,363 L981,363" fill="none" stroke="#d48a3c" stroke-width="2"/>
<path d="M947,363 L981,363" fill="none" stroke="#ffe9a8" stroke-width="2" stroke-dasharray="2 2"/>
<path d="M950,416 L981,416" fill="none" stroke="#84460f" stroke-width="4" stroke-linejoin="miter"/>
<path d="M950,416 L981,416" fill="none" stroke="#d48a3c" stroke-width="2"/>
<path d="M950,416 L981,416" fill="none" stroke="#ffe9a8" stroke-width="2" stroke-dasharray="2 2"/>
<use href="#graph" x="979" y="344"/>
<text x="980" y="340.7" font-size="11" fill="#000" text-anchor="start" textLength="89" lengthAdjust="spacingAndGlyphs" >Hauptwindrichtung</text>
<use href="#graph" x="979" y="397"/>
<text x="980" y="393.5" font-size="11" fill="#000" text-anchor="start" textLength="170" lengthAdjust="spacingAndGlyphs" >90° versetzt zur Hauptwindrichtung</text>
<path d="M809,487 h68 v51 h-68Z M815,493 v39 h56 v-39Z" fill="url(#ck)" fill-rule="evenodd"/>
<rect x="809.5" y="487.5" width="67" height="50" fill="none" stroke="#000" stroke-width="1" />
<rect x="809.5" y="473.5" width="67" height="13" fill="#fff" stroke="#000" stroke-width="1" />
<path d="M817.5,473V487 M867.5,473V487" stroke="#000"/>
<path d="M815.5,476 L811.5,480.0 L815.5,484Z" fill="#000"/>
<path d="M870,476 L874,480.0 L870,484Z" fill="#000"/>
<text x="820" y="484" font-size="11.5" fill="#000" text-anchor="start" textLength="34" lengthAdjust="spacingAndGlyphs" >Voreins</text>
<path d="M859,478 L866,478 L862.5,482Z" fill="#000"/>
<rect x="809.5" y="502.5" width="7" height="9" fill="#fff" stroke="#14148c" stroke-width="1" />
<text x="810.5" y="510.5" font-size="9.5" fill="#14148c" text-anchor="start" >?</text>
<rect x="832" y="500" width="25" height="15" fill="#fff" stroke="#e08028" stroke-width="2" />
<text x="834.5" y="512" font-size="11.5" fill="#000" text-anchor="start" textLength="20" lengthAdjust="spacingAndGlyphs" >NaN</text>
<rect x="868.5" y="503.5" width="8" height="8" fill="#e68a30" stroke="#000" stroke-width="1" />
<path d="M857,507.5 L869,507.5" fill="none" stroke="#e0a050" stroke-width="1"/>
<path d="M877,507.5 L885.5,507.5 L885.5,476 L895,476" fill="none" stroke="#c89050" stroke-width="1"/>
<path d="M812,571 h65 v44 h-65Z M818,577 v32 h53 v-32Z" fill="url(#ck)" fill-rule="evenodd"/>
<rect x="812.5" y="571.5" width="64" height="43" fill="none" stroke="#000" stroke-width="1" />
<rect x="812.5" y="557.5" width="64" height="13" fill="#fff" stroke="#000" stroke-width="1" />
<path d="M820.5,557V571 M867.5,557V571" stroke="#000"/>
<path d="M818.5,560 L814.5,564.0 L818.5,568Z" fill="#000"/>
<path d="M870,560 L874,564.0 L870,568Z" fill="#000"/>
<text x="823" y="568" font-size="11.5" fill="#000" text-anchor="start" textLength="30" lengthAdjust="spacingAndGlyphs" >Vorein</text>
<path d="M859,562 L866,562 L862.5,566Z" fill="#000"/>
<rect x="812.5" y="581.5" width="7" height="9" fill="#fff" stroke="#14148c" stroke-width="1" />
<text x="813.5" y="589.5" font-size="9.5" fill="#14148c" text-anchor="start" >?</text>
<rect x="830" y="580" width="25" height="15.5" fill="#fff" stroke="#e08028" stroke-width="2" />
<text x="832.5" y="592" font-size="11.5" fill="#000" text-anchor="start" textLength="20" lengthAdjust="spacingAndGlyphs" >NaN</text>
<rect x="868.5" y="580.5" width="8" height="8" fill="#e68a30" stroke="#000" stroke-width="1" />
<path d="M855,584.5 L869,584.5" fill="none" stroke="#e0a050" stroke-width="1"/>
<path d="M877,584.5 L885.5,584.5 L885.5,560.5 L895,560.5" fill="none" stroke="#c89050" stroke-width="1"/>
<rect x="894.5" y="453.5" width="31" height="34" fill="#fffedb" stroke="#000" stroke-width="1" />
<use href="#aicon" x="897" y="455"/>
<use href="#irow" x="894" y="472"/>
<use href="#irow" x="894" y="480"/>
<rect x="894.5" y="538.5" width="31" height="34" fill="#fffedb" stroke="#000" stroke-width="1" />
<use href="#aicon" x="897" y="540"/>
<use href="#irow" x="894" y="557"/>
<use href="#irow" x="894" y="565"/>
<path d="M926,476.5 L936,476.5" fill="none" stroke="#7a3a10" stroke-width="3"/>
<path d="M926,476.5 L936,476.5" fill="none" stroke="#d07a40" stroke-width="1"/>
<path d="M926,476.5 L936,476.5" fill="none" stroke="#fff2d8" stroke-width="1" stroke-dasharray="2.5 1.5"/>
<path d="M926,484.5 L936,484.5" fill="none" stroke="#7a3a10" stroke-width="3"/>
<path d="M926,484.5 L936,484.5" fill="none" stroke="#d07a40" stroke-width="1"/>
<path d="M926,484.5 L936,484.5" fill="none" stroke="#fff2d8" stroke-width="1" stroke-dasharray="2.5 1.5"/>
<path d="M926,561.5 L940,561.5" fill="none" stroke="#7a3a10" stroke-width="3"/>
<path d="M926,561.5 L940,561.5" fill="none" stroke="#d07a40" stroke-width="1"/>
<path d="M926,561.5 L940,561.5" fill="none" stroke="#fff2d8" stroke-width="1" stroke-dasharray="2.5 1.5"/>
<path d="M926,569.5 L940,569.5" fill="none" stroke="#7a3a10" stroke-width="3"/>
<path d="M926,569.5 L940,569.5" fill="none" stroke="#d07a40" stroke-width="1"/>
<path d="M926,569.5 L940,569.5" fill="none" stroke="#fff2d8" stroke-width="1" stroke-dasharray="2.5 1.5"/>
<rect x="935.5" y="471.5" width="31" height="16" fill="#fffedb" stroke="#000" stroke-width="1" />
<use href="#brow" x="938" y="472"/>
<use href="#brow" x="938" y="480"/>
<path d="M955.5,473.5 L953.5,475.5 V482.5 L955.5,484.5" fill="none" stroke="#000" stroke-width="1"/>
<rect x="956.5" y="473.5" width="8" height="12" fill="#fff" stroke="#000" stroke-width="1" />
<path d="M960.5,473.5V485.5" stroke="#000"/>
<path d="M956.5,477.5H964.5" stroke="#000"/>
<path d="M956.5,481.5H964.5" stroke="#000"/>
<rect x="939.5" y="556.5" width="31" height="16" fill="#fffedb" stroke="#000" stroke-width="1" />
<use href="#brow" x="942" y="557"/>
<use href="#brow" x="942" y="565"/>
<path d="M959.5,558.5 L957.5,560.5 V567.5 L959.5,569.5" fill="none" stroke="#000" stroke-width="1"/>
<rect x="960.5" y="558.5" width="8" height="12" fill="#fff" stroke="#000" stroke-width="1" />
<path d="M964.5,558.5V570.5" stroke="#000"/>
<path d="M960.5,562.5H968.5" stroke="#000"/>
<path d="M960.5,566.5H968.5" stroke="#000"/>
<path d="M967,479 L981,479" fill="none" stroke="#84460f" stroke-width="4" stroke-linejoin="miter"/>
<path d="M967,479 L981,479" fill="none" stroke="#d48a3c" stroke-width="2"/>
<path d="M967,479 L981,479" fill="none" stroke="#ffe9a8" stroke-width="2" stroke-dasharray="2 2"/>
<path d="M971,564 L985,564" fill="none" stroke="#84460f" stroke-width="4" stroke-linejoin="miter"/>
<path d="M971,564 L985,564" fill="none" stroke="#d48a3c" stroke-width="2"/>
<path d="M971,564 L985,564" fill="none" stroke="#ffe9a8" stroke-width="2" stroke-dasharray="2 2"/>
<use href="#graph" x="979" y="460"/>
<text x="980" y="456.5" font-size="11" fill="#000" text-anchor="start" textLength="73" lengthAdjust="spacingAndGlyphs" >XY- Auslenkung</text>
<use href="#graph" x="983" y="545"/>
<text x="984" y="541.5" font-size="11" fill="#000" text-anchor="start" textLength="99" lengthAdjust="spacingAndGlyphs" >ZY-Auslenkung 90° 2</text>
<rect x="924" y="594" width="11" height="15" fill="#fff" stroke="#0a0a96" stroke-width="2" />
<text x="926.5" y="605.5" font-size="10" fill="#000" text-anchor="start" >0</text>
<rect x="273.5" y="700.5" width="15" height="14" fill="#fff" stroke="#0a0a96" stroke-width="2" />
<rect x="280" y="703.8" width="2" height="1.5" fill="#0a0a70" stroke="none" stroke-width="1" />
<rect x="280" y="706" width="2" height="7" fill="#0a0a70" stroke="none" stroke-width="1" />
<rect x="518.5" y="635.5" width="309" height="66" fill="#ffffe1" stroke="#000" stroke-width="1" />
<text x="520" y="647" font-size="11" fill="#000" text-anchor="start" textLength="251" lengthAdjust="spacingAndGlyphs" >"hier musst du mehr als nur einen Case definieren..."</text>
<text x="520" y="672" font-size="11" fill="#a83c36" text-anchor="start" textLength="300" lengthAdjust="spacingAndGlyphs" >Edit: Ist oben gemeint. Mehr Case Fälle oder Case Strukturen?</text>
<text x="520" y="684.5" font-size="11" fill="#a83c36" text-anchor="start" textLength="305" lengthAdjust="spacingAndGlyphs" >Habe mehr Case Fälle eingefügt. Versuch mit 4 Case Strukturen</text>
<text x="520" y="697" font-size="11" fill="#a83c36" text-anchor="start" textLength="224" lengthAdjust="spacingAndGlyphs" >für Y1, Y2, Y3 und Y4 hat nicht so hingehauen.</text>
<rect x="840.5" y="636.5" width="337" height="66" fill="#ffffe1" stroke="#000" stroke-width="1" />
<text x="842" y="647.5" font-size="11" fill="#000" text-anchor="start" textLength="297" lengthAdjust="spacingAndGlyphs" >Habe in den Case Default (Voreinstellung) Statt die Konstante</text>
<text x="842" y="660.1" font-size="11" fill="#000" text-anchor="start" textLength="331" lengthAdjust="spacingAndGlyphs" >Integer 0 die konstante Double mit dem Zuweisung "NaN" genommen.</text>
<text x="842" y="672.7" font-size="11" fill="#000" text-anchor="start" textLength="308" lengthAdjust="spacingAndGlyphs" >Der Integer 0 hatte  immer Werte die am ersten Index des Array</text>
<text x="842" y="685.3" font-size="11" fill="#000" text-anchor="start" textLength="297" lengthAdjust="spacingAndGlyphs" >stanten ausgegeben. Mit "NaN" bewirke ich das nicht im Graph</text>
<text x="842" y="697.9" font-size="11" fill="#000" text-anchor="start" textLength="80" lengthAdjust="spacingAndGlyphs" >augegeben wird.</text>
<ellipse cx="113.5" cy="216.5" rx="112.5" ry="114.5" fill="none" stroke="#c0202c" stroke-width="1"/>
<ellipse cx="424" cy="270" rx="43.5" ry="101.7" fill="none" stroke="#c0202c" stroke-width="1"/>
<ellipse cx="847" cy="640.5" rx="370" ry="137.5" fill="none" stroke="#c0202c" stroke-width="1"/>
<ellipse cx="1013" cy="528" rx="109" ry="88" fill="none" stroke="#c0202c" stroke-width="1"/>
<line x1="108.5" y1="75" x2="108.5" y2="112" stroke="#c0202c" stroke-width="1"/>
<line x1="107.5" y1="112" x2="107.5" y2="150.5" stroke="#c0202c" stroke-width="1"/>
<line x1="107.5" y1="150.5" x2="116.5" y2="138.5" stroke="#c0202c" stroke-width="1"/>
<line x1="107.5" y1="150.5" x2="98.5" y2="138.5" stroke="#c0202c" stroke-width="1"/>
<line x1="108.5" y1="77.5" x2="419.3" y2="188.1" stroke="#c0202c" stroke-width="1"/>
<line x1="419.3" y1="188.1" x2="409.8" y2="176.5" stroke="#c0202c" stroke-width="1"/>
<line x1="419.3" y1="188.1" x2="404.6" y2="191.1" stroke="#c0202c" stroke-width="1"/>
<line x1="200" y1="210.2" x2="417.3" y2="199.3" stroke="#c0202c" stroke-width="1"/>
<line x1="417.3" y1="199.3" x2="403.1" y2="192.0" stroke="#c0202c" stroke-width="1"/>
<line x1="417.3" y1="199.3" x2="403.9" y2="208.0" stroke="#c0202c" stroke-width="1"/>
<line x1="200" y1="210.2" x2="214.7" y2="216.5" stroke="#c0202c" stroke-width="1"/>
<line x1="200" y1="210.2" x2="214.0" y2="202.5" stroke="#c0202c" stroke-width="1"/>
<line x1="700.6" y1="630" x2="797.8" y2="595.2" stroke="#c0202c" stroke-width="1"/>
<line x1="797.8" y1="595.2" x2="783.9" y2="593.2" stroke="#c0202c" stroke-width="1"/>
<line x1="797.8" y1="595.2" x2="788.4" y2="605.6" stroke="#c0202c" stroke-width="1"/>
<line x1="879" y1="634.5" x2="853.9" y2="597.5" stroke="#c0202c" stroke-width="1"/>
<line x1="853.9" y1="597.5" x2="855.2" y2="609.4" stroke="#c0202c" stroke-width="1"/>
<line x1="853.9" y1="597.5" x2="864.5" y2="603.1" stroke="#c0202c" stroke-width="1"/>
<line x1="902" y1="634.5" x2="923.6" y2="610.7" stroke="#c0202c" stroke-width="1"/>
<line x1="923.6" y1="610.7" x2="912.3" y2="614.8" stroke="#c0202c" stroke-width="1"/>
<line x1="923.6" y1="610.7" x2="920.7" y2="622.3" stroke="#c0202c" stroke-width="1"/>
<line x1="1105.5" y1="460.4" x2="1075" y2="488" stroke="#c0202c" stroke-width="1"/>
<line x1="1075" y1="488" x2="1088.9" y2="486.3" stroke="#c0202c" stroke-width="1"/>
<line x1="1075" y1="488" x2="1078.1" y2="474.4" stroke="#c0202c" stroke-width="1"/>
<text x="134.7" y="139.4" font-size="20" fill="#c02838" text-anchor="start" textLength="10" lengthAdjust="spacingAndGlyphs" stroke="#fff" stroke-width="0.4">2.</text>
<text x="682.7" y="559.8" font-size="20" fill="#c02838" text-anchor="start" textLength="10" lengthAdjust="spacingAndGlyphs" stroke="#fff" stroke-width="0.4">3.</text>
<text x="1051" y="495.5" font-size="19" fill="#c02838" text-anchor="start" textLength="10" lengthAdjust="spacingAndGlyphs" stroke="#fff" stroke-width="0.4">4.</text>
<text x="1109" y="421.8" font-size="15.5" fill="#c0202c" text-anchor="start" textLength="51" lengthAdjust="spacingAndGlyphs" stroke="#c0202c" stroke-width="0.35">Y1 oder Y3</text>
<text x="1109" y="441.7" font-size="15.5" fill="#c0202c" text-anchor="start" textLength="15" lengthAdjust="spacingAndGlyphs" stroke="#c0202c" stroke-width="0.35">und</text>
<text x="1109" y="462" font-size="15.5" fill="#c0202c" text-anchor="start" textLength="54" lengthAdjust="spacingAndGlyphs" stroke="#c0202c" stroke-width="0.35">Y2 oder Y4</text>
</svg></body></html>
